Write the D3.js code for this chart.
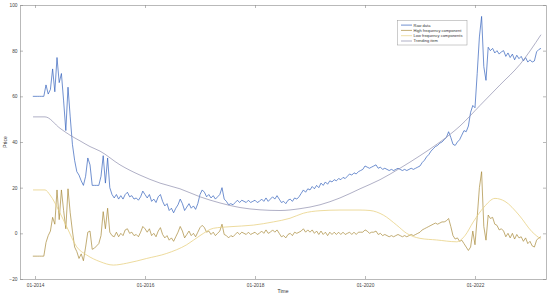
<!DOCTYPE html>
<html>
<head>
<meta charset="utf-8">
<script src="https://cdn.jsdelivr.net/npm/d3@7/dist/d3.min.js"></script>
<style>
    body { margin: 0; background: #fff; }
    svg { display: block; font-family: 'Liberation Sans', Arial, sans-serif; }
</style>
</head>
<body>
<div id="chart"></div>
<script>
'use strict';

var width = 550,
    height = 297,
    margin = {top: 5, right: 4, bottom: 18, left: 20};

// raw and high frequency series are sampled on a regular grid (decimal years)
var sampleStart = 2013.96,
    sampleStep = 0.04;

var rawValues = [
    60, 60, 60, 60, 60, 60, 65, 61, 63, 72,
    62, 77, 66, 70, 58, 45, 64, 51, 39, 32,
    27, 25.5, 23, 21, 25, 33, 30, 21, 21, 21,
    21, 25, 34, 22, 33, 20, 17, 15.5, 17, 15,
    16.5, 15, 17, 18, 16, 16.5, 15, 15.5, 14.5, 16,
    18.5, 17, 15.5, 17, 14, 15, 13.5, 16, 17, 14,
    12, 13, 10, 11, 9, 11, 12.5, 15, 13, 10,
    11.5, 13, 11, 12, 10.5, 13, 17, 19, 18, 16,
    17, 15.5, 16.5, 15, 16, 17, 20, 15, 14, 12.5,
    13, 12.5, 13.5, 14.5, 13.5, 14.5, 14, 13.5, 14.5, 13.5,
    14, 14.5, 13.5, 14, 15, 14, 15.5, 14, 15, 16,
    15, 16.5, 15, 13.5, 14, 13, 14.5, 15, 14, 15.5,
    15, 16, 17.5, 19, 18, 19.5, 19, 20.5, 19.5, 21,
    20, 22, 21, 22.5, 21.5, 23, 22.5, 23.5, 23, 24,
    23.5, 24.5, 24, 25, 26, 25.5, 26.5, 26, 27, 27.5,
    28, 29.5, 29, 28.5, 29, 29.5, 30, 28.5, 29, 28,
    28.5, 28, 27.5, 28, 27.5, 28, 28.5, 28, 27.5, 28,
    27.5, 28, 28.5, 28, 28.5, 29, 29.5, 31, 32, 33.5,
    34.5, 36, 37, 38, 38.5, 39.5, 40, 41, 42, 44.5,
    42, 39, 38.5, 40, 41, 43, 45, 44.5, 47, 53,
    56, 55, 70, 86, 95, 73, 67, 81.5, 80, 81,
    79, 80, 78.5, 79.5, 80, 77.5, 79, 77, 78.5, 76,
    78, 76.5, 77.5, 75.5, 77, 75, 76, 75, 75.5, 79.5,
    80.5, 81
];

var highValues = [
    -10, -10, -10, -10, -10, -10, -4, -1, 1, 7,
    4, 19, 6, 19, 10, 2, 19.5, 9, 1, -6,
    -8, -11, -9, -12, -6, 0.5, 1, -7, -6.5, -5.5,
    -4.5, -1, 9.5, 2, 11, 0.5, -1, -1.5, 0.5, -1.5,
    0, -1, 1.5, 2, 0, 0.5, -1, -0.5, -1.5, 0.5,
    3, 2, 0.5, 2, -1, 0, -1.5, 1, 2.5, -0.5,
    -2, -1, -3, -2, -3.5, -1.5, 0.5, 3, 1, -2,
    -0.5, 1, -1, 0, -1.5, 0.5, 2.5, 3.5, 2.5, 0.5,
    1, -0.5, 0.5, -1, 0, 1, 4, -0.5, -1, -2,
    -1, -1.5, -0.5, 0.5, -0.5, 0.5, 0, -0.5, 0.5, -0.5,
    0, 0.5, -0.5, 0, 1, 0, 1.5, 0, 0.5, 1.5,
    0.5, 1.5, 0, -1.5, -1, -2, -0.5, 0, -1, 0.5,
    0, 0.5, 1, 2, 0.5, 1.5, 0.5, 1.5, 0, 1,
    -0.5, 1, -0.5, 0.5, -1, 0.5, -0.5, 0.5, -0.5, 0.5,
    -0.5, 0.5, -0.5, 0, 0.5, -0.5, 0.5, -0.5, 0.5, 0.5,
    0.5, 1.5, 1, 0, 0.5, 0.5, 1, -0.5, 0, -1,
    -0.5, -1, -1.5, -1, -1.5, -1, -0.5, -1, -1.5, -1,
    -1.5, -1, -0.5, -1, -0.5, 0, 0.5, 1.5, 2, 2.5,
    3, 3.5, 4, 4.5, 4, 4.5, 5, 5, 5.5, 6.5,
    3, -1, -2.5, -2, -3.5, -3, -4.5, -6, -7.5, -6,
    1, -5, 7, 20, 27, 3, -3, 8, 6.5, 7,
    4, 3.5, 1.5, 2, 1, -1.5, 0, -2, 0, -2.5,
    -0.5, -2, -1.5, -3.5, -2, -4.5, -3.5, -5.5, -6, -3,
    -2, -1.5
];

// smooth components, read at a few points
var lowYears = [2013.964, 2014.182, 2014.273, 2014.455, 2014.576, 2014.758, 2014.94, 2015.182,
    2015.424, 2015.667, 2016.031, 2016.395, 2016.758, 2017.0, 2017.242, 2017.545, 2017.969,
    2018.333, 2018.636, 2018.878, 2019.182, 2019.545, 2019.909, 2020.091, 2020.333, 2020.576,
    2020.758, 2021.0, 2021.303, 2021.667, 2021.818, 2021.969, 2022.164, 2022.364, 2022.545,
    2022.8, 2023.036, 2023.196];
var lowValues = [19, 19, 16.8, 8.9, 2.9, -5.9, -9.5, -12.4,
    -13.9, -13.1, -11, -8.8, -5, -1, 2.2, 2.9, 3.6,
    5, 6.6, 8.8, 9.9, 10.2, 10.2, 10, 8, 3.6,
    0, -2.2, -2.9, -3.7, -1, 5, 11.5, 15.3, 14,
    8, 0.7, -2.5];

var trendYears = [2013.964, 2014.182, 2014.455, 2014.636, 2014.818, 2015.0, 2015.182, 2015.545,
    2015.909, 2016.273, 2016.636, 2017.0, 2017.364, 2017.727, 2018.091, 2018.455, 2018.818,
    2019.182, 2019.545, 2019.909, 2020.273, 2020.636, 2021.0, 2021.364, 2021.727, 2022.091,
    2022.455, 2022.818, 2023.2];
var trendValues = [51, 51, 46, 43, 40.5, 38, 36, 30,
    25.5, 22, 19.5, 16, 13.3, 11.3, 10.3, 10, 10.8,
    12.5, 15.5, 19.5, 23.5, 28.5, 34, 40, 47, 56,
    65, 74, 87];

var xTickYears = [2014, 2016, 2018, 2020, 2022];
var xTickLabels = ['01-2014', '01-2016', '01-2018', '01-2020', '01-2022'];
var yTicks = [-20, 0, 20, 40, 60, 80, 100];

var seriesNames = ['Raw data', 'High frequency component', 'Low frequency components', 'Trending item'];
var seriesColors = ['#3462bb', '#a88a3a', '#e8d285', '#8e8eae'];

var innerW = width - margin.left - margin.right,
    innerH = height - margin.top - margin.bottom;

var x = d3.scaleLinear().domain([2013.727, 2023.291]).range([0, innerW]);
var y = d3.scaleLinear().domain([-20, 100]).range([innerH, 0]);

var svg = d3.select('#chart').append('svg')
    .attr('width', width)
    .attr('height', height);

var g = svg.append('g')
    .attr('transform', 'translate(' + margin.left + ',' + margin.top + ')');

var toPoints = function(years, values) {
    return values.map(function(v, i) { return [years[i], v]; });
};
var sampled = function(values) {
    return values.map(function(v, i) { return [sampleStart + i * sampleStep, v]; });
};

var line = d3.line()
    .x(function(d) { return x(d[0]); })
    .y(function(d) { return y(d[1]); });
var smoothLine = d3.line()
    .curve(d3.curveMonotoneX)
    .x(function(d) { return x(d[0]); })
    .y(function(d) { return y(d[1]); });

var series = [
    {path: line(sampled(rawValues)), w: 0.7},
    {path: line(sampled(highValues)), w: 0.7},
    {path: smoothLine(toPoints(lowYears, lowValues)), w: 0.8},
    {path: smoothLine(toPoints(trendYears, trendValues)), w: 0.7}
];

g.selectAll('.series').data(series)
    .enter().append('path')
    .attr('class', 'series')
    .attr('d', function(d) { return d.path; })
    .attr('fill', 'none')
    .attr('stroke', function(d, i) { return seriesColors[i]; })
    .attr('stroke-width', function(d) { return d.w; })
    .attr('stroke-linejoin', 'round');

// box and inward ticks, matlab style
var axisColor = '#8a8a8a';
var tickLen = 3;

var axisBottomG = g.append('g').attr('transform', 'translate(0,' + innerH + ')')
    .call(d3.axisBottom(x).tickValues(xTickYears).tickSizeInner(-tickLen).tickSizeOuter(0)
        .tickFormat(function(d, i) { return xTickLabels[i]; }));
var axisTopG = g.append('g')
    .call(d3.axisTop(x).tickValues(xTickYears).tickSizeInner(-tickLen).tickSizeOuter(0)
        .tickFormat(''));
var axisLeftG = g.append('g')
    .call(d3.axisLeft(y).tickValues(yTicks).tickSizeInner(-tickLen).tickSizeOuter(0));
var axisRightG = g.append('g').attr('transform', 'translate(' + innerW + ',0)')
    .call(d3.axisRight(y).tickValues(yTicks).tickSizeInner(-tickLen).tickSizeOuter(0)
        .tickFormat(''));

[axisBottomG, axisTopG, axisLeftG, axisRightG].forEach(function(a) {
    a.selectAll('path, line').attr('stroke', axisColor).attr('stroke-width', 0.6);
    a.selectAll('text').attr('fill', '#444').attr('font-size', 4.8)
        .attr('font-family', "'Liberation Sans', Arial, sans-serif");
});
axisBottomG.selectAll('text').attr('y', 4.5);
axisLeftG.selectAll('text').attr('x', -2.5);

svg.append('text')
    .attr('x', margin.left + innerW / 2)
    .attr('y', 292.5)
    .attr('text-anchor', 'middle')
    .attr('font-size', 5)
    .attr('fill', '#333')
    .text('Time');

svg.append('text')
    .attr('transform', 'translate(6.5,' + (margin.top + innerH / 2) + ') rotate(-90)')
    .attr('text-anchor', 'middle')
    .attr('font-size', 5)
    .attr('fill', '#333')
    .text('Price');

// legend
var legend = svg.append('g').attr('transform', 'translate(397.5,20.5)');
legend.append('rect')
    .attr('width', 69.5)
    .attr('height', 24.5)
    .attr('fill', '#fff')
    .attr('stroke', '#999')
    .attr('stroke-width', 0.5);

var item = legend.selectAll('.item').data(seriesNames)
    .enter().append('g')
    .attr('class', 'item')
    .attr('transform', function(d, i) { return 'translate(0,' + (4.6 + i * 5.3) + ')'; });
item.append('line')
    .attr('x1', 3.5).attr('x2', 14.5)
    .attr('stroke', function(d, i) { return seriesColors[i]; })
    .attr('stroke-width', 0.7);
item.append('text')
    .attr('x', 16)
    .attr('dy', '0.35em')
    .attr('font-size', 4)
    .attr('fill', '#333')
    .text(function(d) { return d; });
</script>
</body>
</html>
